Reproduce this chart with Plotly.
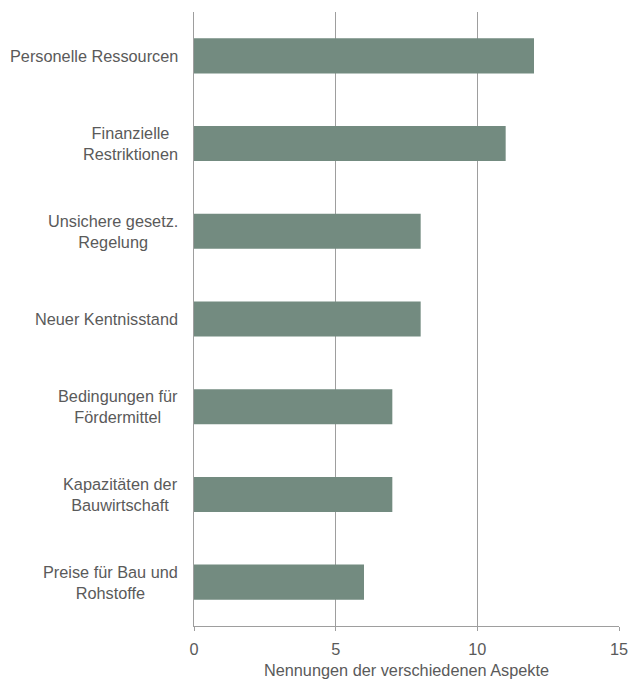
import plotly.graph_objects as go

# Daten
kategorien = [
    "Personelle Ressourcen",
    "Finanzielle<br>Restriktionen",
    "Unsichere gesetz.<br>Regelung",
    "Neuer Kentnisstand",
    "Bedingungen für<br>Fördermittel",
    "Kapazitäten der<br>Bauwirtschaft",
    "Preise für Bau und<br>Rohstoffe",
]
nennungen = [12, 11, 8, 8, 7, 7, 6]
x_ticks = [0, 5, 10, 15]

BAR_COLOR = "#738b80"
TEXT_COLOR = "#5a5a5a"
GRID_COLOR = "#9e9e9e"
FONT = "Liberation Sans, Arial, sans-serif"
FONT_SIZE = 16.3

fig = go.Figure(
    data=[
        go.Bar(
            x=nennungen,
            y=kategorien,
            orientation="h",
            width=0.4,
            marker=dict(color=BAR_COLOR, line=dict(width=0)),
        )
    ]
)

# Kategorie-Beschriftungen, Zeilen zentriert
for kat in kategorien:
    fig.add_annotation(
        x=0,
        xref="paper",
        y=kat,
        yref="y",
        text=kat,
        showarrow=False,
        xanchor="right",
        align="center",
        xshift=-14,
        font=dict(family=FONT, size=FONT_SIZE, color=TEXT_COLOR),
    )

fig.update_layout(
    width=629,
    height=679,
    margin=dict(l=194, r=10, t=12, b=53),
    plot_bgcolor="white",
    paper_bgcolor="white",
    showlegend=False,
    font=dict(family=FONT, size=FONT_SIZE, color=TEXT_COLOR),
    xaxis=dict(
        range=[0, 15],
        tickvals=x_ticks,
        tickfont=dict(family=FONT, size=FONT_SIZE, color=TEXT_COLOR),
        showgrid=True,
        gridcolor=GRID_COLOR,
        gridwidth=1,
        zeroline=False,
        showline=True,
        linecolor=GRID_COLOR,
        ticks="outside",
        ticklen=4,
        tickcolor=GRID_COLOR,
        ticklabelstandoff=4,
        title=dict(
            text="Nennungen der verschiedenen Aspekte",
            standoff=11,
            font=dict(family=FONT, size=FONT_SIZE, color=TEXT_COLOR),
        ),
        automargin=False,
    ),
    yaxis=dict(
        categoryorder="array",
        categoryarray=kategorien,
        autorange="reversed",
        showticklabels=False,
        showgrid=False,
        zeroline=False,
        showline=True,
        linecolor=GRID_COLOR,
        automargin=False,
    ),
)

fig.write_html(
    "out.html",
    config={"displayModeBar": False},
    post_script="document.body.style.margin='0';",
)
